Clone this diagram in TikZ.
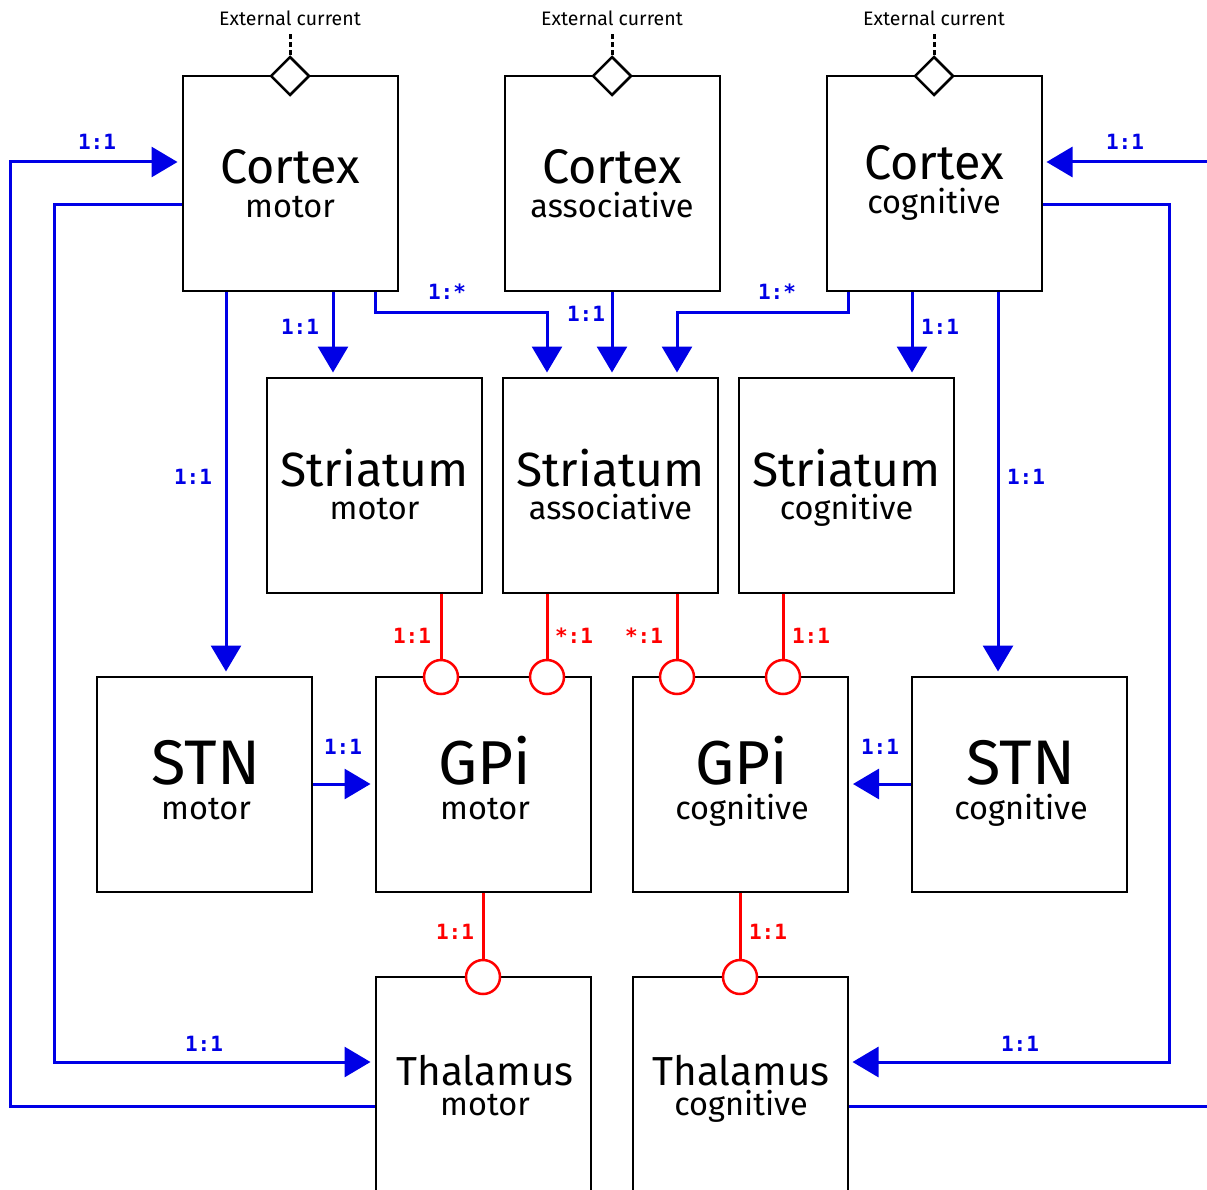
\documentclass[tikz,border=0pt]{standalone}
\usepackage{fontspec}
\setmainfont{Fira Sans}
\setmonofont{DejaVu Sans Mono}
\usetikzlibrary{arrows.meta,shapes.geometric}
\definecolor{exc}{RGB}{0,0,230}
\definecolor{inh}{RGB}{255,0,0}
\newcommand{\fs}[1]{\fontsize{#1}{#1}\selectfont}
\tikzset{
  box/.style={draw=black, line width=2pt, minimum width=215pt, minimum height=215pt, inner sep=0pt},
  ttl/.style={anchor=base, inner sep=0pt, text depth=0pt},
  sub/.style={anchor=base, inner sep=0pt, text height=0.6em, font=\fs{32.5}},
  excl/.style={draw=exc, line width=3pt, -{Triangle[length=26pt,width=30pt]}, shorten >=4pt},
  excp/.style={draw=exc, line width=3pt},
  inhl/.style={draw=inh, line width=3pt},
  inhc/.style={circle, draw=inh, line width=2.5pt, fill=white, minimum size=34pt, inner sep=0pt},
  elbl/.style={text=exc, font=\fs{21}\ttfamily\bfseries, inner sep=0pt},
  ilbl/.style={text=inh, font=\fs{21}\ttfamily\bfseries, inner sep=0pt},
  ext/.style={font=\fs{19.5}, inner sep=0pt},
  extd/.style={diamond, draw=black, line width=2.5pt, fill=white, minimum width=39pt, minimum height=39pt, inner sep=0pt},
  extl/.style={draw=black, line width=3pt, dash pattern=on 5pt off 3pt},
}
\begin{document}
\begin{tikzpicture}[x=1pt,y=-1pt]
\useasboundingbox (0,0) rectangle (1207,1190);
% helper coordinates
\foreach \xx in {10,54,226,333,375,441,483,547,612,677,740,783,848,912,998,1169,1207}
  \coordinate (x\xx) at (\xx,0);
\foreach \yy in {32,162,205,312,784,1062,1106}
  \coordinate (y\yy) at (0,\yy);
% boxes
\node[box] (cm) at (290,183.5) {};
\node[box] (ca) at (612,183.5) {};
\node[box] (cg) at (934,183.5) {};
\node[box] (sm) at (374.5,485) {};
\node[box] (sa) at (610.5,485) {};
\node[box] (sc) at (846.5,485) {};
\node[box] (stm) at (204.5,784) {};
\node[box] (gm) at (483,784) {};
\node[box] (gc) at (740.5,784) {};
\node[box] (stc) at (1019.5,784) {};
\node[box] (tm) at (483,1084.5) {};
\node[box] (tc) at (740,1084.5) {};
% texts
\node[ttl, font=\fs{48.5}] (cm-t) at (290,184) {Cortex};
\node[sub] (cm-s) at (290,218) {motor};
\node[ttl, font=\fs{48.5}] (ca-t) at (612,184) {Cortex};
\node[sub] (ca-s) at (612,218) {associative};
\node[ttl, font=\fs{48.5}] (cg-t) at (934,180) {Cortex};
\node[sub] (cg-s) at (934,214) {cognitive};
\node[ttl, font=\fs{48}] (sm-t) at (374.5,486) {Striatum};
\node[sub] (sm-s) at (374.5,519) {motor};
\node[ttl, font=\fs{48}] (sa-t) at (610.5,486) {Striatum};
\node[sub] (sa-s) at (610.5,519) {associative};
\node[ttl, font=\fs{48}] (sc-t) at (846.5,486) {Striatum};
\node[sub] (sc-s) at (846.5,519) {cognitive};
\node[ttl, font=\fs{63}] (stm-t) at (206,784) {STN};
\node[sub] (stm-s) at (206,819) {motor};
\node[ttl, font=\fs{62}] (gm-t) at (485,784) {GPi};
\node[sub] (gm-s) at (485,819) {motor};
\node[ttl, font=\fs{62}] (gc-t) at (742,784) {GPi};
\node[sub] (gc-s) at (742,819) {cognitive};
\node[ttl, font=\fs{63}] (stc-t) at (1021,784) {STN};
\node[sub] (stc-s) at (1021,819) {cognitive};
\node[ttl, font=\fs{40.5}] (tm-t) at (485,1085) {Thalamus};
\node[sub] (tm-s) at (485,1115) {motor};
\node[ttl, font=\fs{40.5}] (tc-t) at (741,1085) {Thalamus};
\node[sub] (tc-s) at (741,1115) {cognitive};
% external currents
\foreach \n/\xx in {cm/290,ca/612,cg/934}{
  \node[extd] (\n-d) at (\xx,76) {};
  \node[ext] (\n-e) at (\xx,18) {External current};
  \coordinate (\n-ec) at (\xx,32);
  \draw[extl] (\n-d.north) -- (\n-ec);
}
% excitatory connections
\draw[excl] (cm.south -| x333) -- (sm.north -| x333);
\draw[excl] (cm.south -| x375) |- (x547 |- y312) -- (sa.north -| x547);
\draw[excl] (ca.south -| x612) -- (sa.north -| x612);
\draw[excl] (cg.south -| x848) |- (x677 |- y312) -- (sa.north -| x677);
\draw[excl] (cg.south -| x912) -- (sc.north -| x912);
\draw[excl] (cm.south -| x226) -- (stm.north -| x226);
\draw[excl] (cg.south -| x998) -- (stc.north -| x998);
\draw[excl] (stm.east |- y784) -- (gm.west |- y784);
\draw[excl] (stc.west |- y784) -- (gc.east |- y784);
\draw[excl] (cm.west |- y205) -| (x54 |- y1062) -- (tm.west |- y1062);
\draw[excl] (tm.west |- y1106) -| (x10 |- y162) -- (cm.west |- y162);
\draw[excl] (cg.east |- y205) -| (x1169 |- y1062) -- (tc.east |- y1062);
\coordinate (edgeA) at (1207,1106);
\coordinate (edgeB) at (1207,162);
\draw[excp] (tc.east |- y1106) -- (edgeA);
\draw[excl] (edgeB) -- (cg.east |- y162);
% excitatory labels
\node[elbl] (l1) at (300,327) {1:1};
\node[elbl] (l2) at (447,292) {1:*};
\node[elbl] (l3) at (586,314) {1:1};
\node[elbl] (l4) at (777,292) {1:*};
\node[elbl] (l5) at (940,327) {1:1};
\node[elbl] (l6) at (193,477) {1:1};
\node[elbl] (l7) at (1026,477) {1:1};
\node[elbl] (l8) at (343,747) {1:1};
\node[elbl] (l9) at (880,747) {1:1};
\node[elbl] (l10) at (204,1044) {1:1};
\node[elbl] (l11) at (97,142) {1:1};
\node[elbl] (l12) at (1020,1044) {1:1};
\node[elbl] (l13) at (1125,142) {1:1};
% inhibitory connections
\node[inhc] (c1) at (441,677) {};
\node[inhc] (c2) at (547,677) {};
\node[inhc] (c3) at (677,677) {};
\node[inhc] (c4) at (783,677) {};
\node[inhc] (c5) at (483,977) {};
\node[inhc] (c6) at (740,977) {};
\draw[inhl] (sm.south -| c1) -- (c1.north);
\draw[inhl] (sa.south -| c2) -- (c2.north);
\draw[inhl] (sa.south -| c3) -- (c3.north);
\draw[inhl] (sc.south -| c4) -- (c4.north);
\draw[inhl] (gm.south -| c5) -- (c5.north);
\draw[inhl] (gc.south -| c6) -- (c6.north);
\node[ilbl] (r1) at (412,636) {1:1};
\node[ilbl] (r2) at (574,636) {*:1};
\node[ilbl] (r3) at (644,636) {*:1};
\node[ilbl] (r4) at (811,636) {1:1};
\node[ilbl] (r5) at (455,932) {1:1};
\node[ilbl] (r6) at (768,932) {1:1};
\end{tikzpicture}
\end{document}
